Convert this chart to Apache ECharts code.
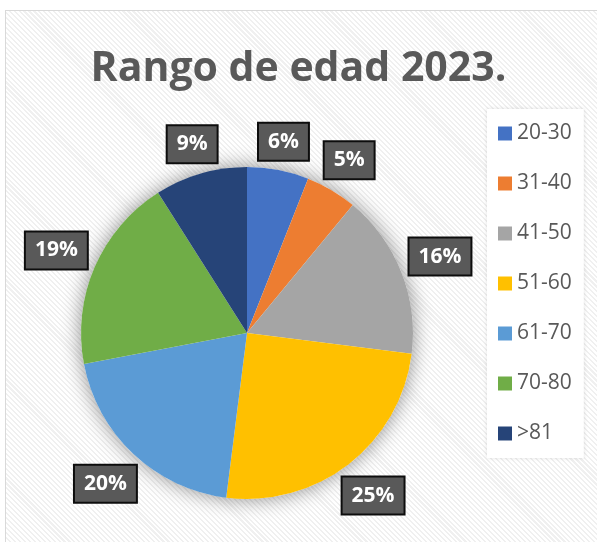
<!DOCTYPE html>
<html>
<head>
<meta charset="utf-8">
<script src="https://cdn.jsdelivr.net/npm/echarts@6/dist/echarts.min.js"></script>
<style>
  html, body { margin: 0; padding: 0; background: #fff; }
  #wrap { position: relative; width: 597px; height: 542px; overflow: hidden; }
  #frame {
    position: absolute; left: 5px; top: 10px; width: 620px; height: 560px;
    border: 1.5px solid #d9d9d9;
    background: repeating-linear-gradient(45deg, #ffffff 0px, #ffffff 2px, #f0f0f0 2px, #f0f0f0 3.5px);
  }
  #main { position: absolute; left: 0; top: 0; width: 597px; height: 542px; }
</style>
</head>
<body>
<div id="wrap">
  <div id="frame"></div>
  <div id="main"></div>
</div>
<script>
// datos
var categorias = ["20-30", "31-40", "41-50", "51-60", "61-70", "70-80", ">81"];
var porcentajes = [6, 5, 16, 25, 20, 19, 9];
var colores = ["#4472C4", "#ED7D31", "#A5A5A5", "#FFC000", "#5B9BD5", "#70AD47", "#264478"];

var CX = 247, CY = 333, R = 166, GAP = 4;
var total = porcentajes.reduce(function (a, b) { return a + b; }, 0);

var myChart = echarts.init(document.getElementById("main"));

var option = {
  backgroundColor: "transparent",
  title: {
    text: "Rango de edad 2023.",
    left: "center",
    top: 37,
    textStyle: {
      fontFamily: "Open Sans",
      fontWeight: "bold",
      fontSize: 41,
      lineHeight: 54,
      color: "#595959",
    },
  },
  legend: {
    orient: "vertical",
    left: 487,
    top: 109,
    padding: [14, 12, 14, 11],
    backgroundColor: "#ffffff",
    shadowColor: "rgba(0,0,0,0.12)",
    shadowBlur: 4,
    icon: "rect",
    itemWidth: 14,
    itemHeight: 14,
    itemGap: 29,
    data: categorias,
    textStyle: {
      fontFamily: "Open Sans",
      fontSize: 21,
      lineHeight: 20,
      color: "#595959",
    },
  },
  series: [
    {
      // sombra del pastel
      type: "pie",
      silent: true,
      z: 1,
      center: [CX, CY],
      radius: R,
      label: { show: false },
      labelLine: { show: false },
      itemStyle: {
        color: "#ffffff",
        shadowColor: "rgba(0,0,0,0.45)",
        shadowBlur: 20,
      },
      data: [{ value: 1, name: "sombra" }],
    },
    {
      name: "Rango de edad",
      type: "pie",
      z: 2,
      center: [CX, CY],
      radius: R,
      startAngle: 90,
      clockwise: true,
      avoidLabelOverlap: false,
      itemStyle: { borderWidth: 0 },
      label: {
        show: true,
        position: "outside",
        formatter: "{c}%",
        fontFamily: "Open Sans",
        fontWeight: "bold",
        fontSize: 21,
        lineHeight: 24,
        color: "#ffffff",
        backgroundColor: "#595959",
        borderColor: "#0d0d0d",
        borderWidth: 2,
        padding: [6, 9, 6, 9],
      },
      labelLine: { show: false },
      labelLayout: function (p) {
        var i = p.dataIndex;
        if (i == null) return {};
        var antes = 0;
        for (var k = 0; k < i; k++) antes += porcentajes[k];
        var ang = (antes + porcentajes[i] / 2) / total * Math.PI * 2;
        var ux = Math.sin(ang), uy = -Math.cos(ang);
        var w = p.labelRect.width, h = p.labelRect.height;
        var d = R + GAP + Math.abs(ux) * w / 2 + Math.abs(uy) * h / 2;
        return { x: CX + d * ux, y: CY + d * uy, align: "center", verticalAlign: "middle" };
      },
      emphasis: { scale: false },
      data: categorias.map(function (c, i) {
        return { name: c, value: porcentajes[i], itemStyle: { color: colores[i] } };
      }),
    },
  ],
};

myChart.setOption(option);
</script>
</body>
</html>
